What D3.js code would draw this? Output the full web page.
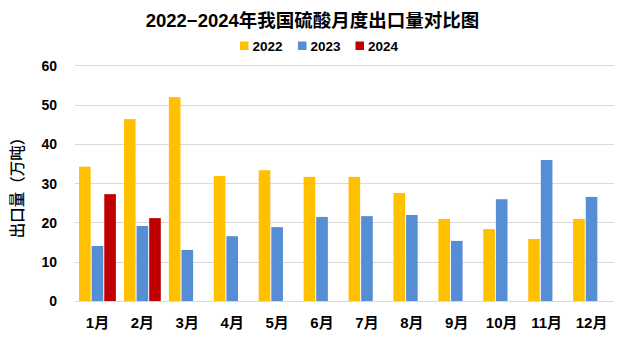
<!DOCTYPE html>
<html>
<head>
<meta charset="utf-8">
<script src="https://cdn.jsdelivr.net/npm/d3@7"></script>
<style>
  html, body { margin: 0; padding: 0; background: #fff; }
  svg { display: block; }
  text { font-family: "Liberation Sans", "Noto Sans CJK SC", sans-serif; font-weight: bold; fill: #000; }
</style>
</head>
<body>
<svg id="chart" width="621" height="339"></svg>
<script>
const months = ["1月","2月","3月","4月","5月","6月","7月","8月","9月","10月","11月","12月"];
const seriesNames = ["2022","2023","2024"];
const values2022 = [34.2, 46.3, 51.9, 31.8, 33.3, 31.6, 31.6, 27.5, 20.9, 18.3, 15.8, 20.9];
const values2023 = [14.0, 19.1, 13.0, 16.5, 18.8, 21.4, 21.6, 21.9, 15.3, 25.9, 35.9, 26.5];
const values2024 = [27.2, 21.1, null, null, null, null, null, null, null, null, null, null];
const yTicks = [0, 10, 20, 30, 40, 50, 60];
const colors = ["#FFC000", "#558ED5", "#C00000"];
const titleText = "2022−2024年我国硫酸月度出口量对比图";
const yTitleText = "出口量（万吨）";

const seriesValues = [values2022, values2023, values2024];
const svg = d3.select("#chart");
const plotLeft = 75, plotRight = 614, plotTop = 65.3, plotBottom = 301;

const x = d3.scaleBand().domain(months).range([plotLeft, plotRight]).paddingInner(0).paddingOuter(0);
const x1 = d3.scaleBand().domain(seriesNames).range([0, x.bandwidth()]).paddingInner(0.08).paddingOuter(0.32);
const y = d3.scaleLinear().domain([0, 60]).range([plotBottom, plotTop]);
const color = d3.scaleOrdinal().domain(seriesNames).range(colors);

// gridlines
svg.append("g").selectAll("line").data(yTicks).join("line")
  .attr("x1", plotLeft).attr("x2", plotRight)
  .attr("y1", d => Math.round(y(d)) + 0.5).attr("y2", d => Math.round(y(d)) + 0.5)
  .attr("stroke", "#D9D9D9").attr("stroke-width", 1);

// bars
const rows = months.map((m, i) => ({ month: m, vals: seriesNames.map((s, j) => ({ s, v: seriesValues[j][i] })) }));
svg.append("g").selectAll("g").data(rows).join("g")
  .attr("transform", d => `translate(${x(d.month)},0)`)
  .selectAll("rect").data(d => d.vals.filter(e => e.v != null)).join("rect")
  .attr("x", d => x1(d.s)).attr("width", x1.bandwidth())
  .attr("y", d => y(d.v)).attr("height", d => y(0) - y(d.v))
  .attr("fill", d => color(d.s));

// y axis
const yAxis = d3.axisLeft(y).tickValues(yTicks).tickSize(0).tickPadding(0).tickFormat(d3.format("d"));
const yg = svg.append("g").attr("transform", `translate(57,0)`).call(yAxis);
yg.select(".domain").remove();
yg.selectAll("text").style("font-size", "14px").attr("dy", "0.35em");

// x axis
const xAxis = d3.axisBottom(x).tickSize(0).tickPadding(0);
const xg = svg.append("g").attr("transform", `translate(0,${plotBottom})`).call(xAxis);
xg.select(".domain").remove();
xg.selectAll("text").style("font-size", "15px").attr("y", 27).attr("dy", 0);

// title
svg.append("text").attr("x", 312.5).attr("y", 27).attr("text-anchor", "middle")
  .style("font-size", "18.5px").text(titleText);

// y title
svg.append("text").attr("transform", "translate(23,184) rotate(-90)").attr("text-anchor", "middle")
  .style("font-size", "15.5px").style("font-weight", "500")
  .style("font-family", "'Noto Sans CJK SC', sans-serif").text(yTitleText);

// legend
const legendX = [240, 298, 355.5];
const lg = svg.append("g").selectAll("g").data(seriesNames).join("g")
  .attr("transform", (d, i) => `translate(${legendX[i]},0)`);
lg.append("rect").attr("x", 0).attr("y", 41.5).attr("width", 8.5).attr("height", 8.5).attr("fill", d => color(d));
lg.append("text").attr("x", 12.5).attr("y", 50.5).style("font-size", "13.5px").text(d => d);
</script>
</body>
</html>
